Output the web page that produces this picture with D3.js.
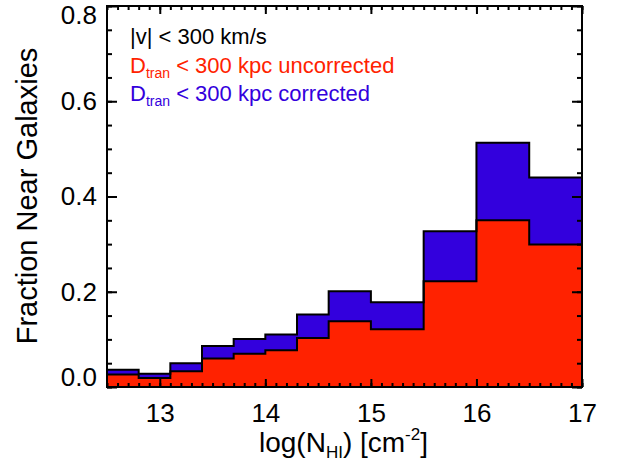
<!DOCTYPE html>
<html>
<head>
<meta charset="utf-8">
<script src="https://cdn.jsdelivr.net/npm/d3@7"></script>
<style>
body { margin: 0; background: #fff; }
svg { font-family: "Liberation Sans", Arial, sans-serif; }
</style>
</head>
<body>
<script>
// bin edges in log(N_HI)
var binEdges = [12.5, 12.8, 13.1, 13.4, 13.7, 14.0, 14.3, 14.6, 15.0, 15.5, 16.0, 16.5, 17.0];
// fraction near galaxies per bin
var corrected   = [0.036, 0.028, 0.050, 0.086, 0.101, 0.110, 0.152, 0.201, 0.178, 0.327, 0.513, 0.440];
var uncorrected = [0.026, 0.019, 0.033, 0.060, 0.070, 0.077, 0.103, 0.138, 0.121, 0.222, 0.350, 0.299];
var xTicks = [13, 14, 15, 16, 17];
var yTicks = [0.0, 0.2, 0.4, 0.6, 0.8];

var W = 623, H = 461;
var margin = {top: 6, right: 41, bottom: 74, left: 107},
    width = W - margin.left - margin.right,
    height = H - margin.top - margin.bottom;

var red = "#ff2200", blue = "#3300dd";

var svg = d3.select("body").append("svg")
    .attr("width", W)
    .attr("height", H);

var g = svg.append("g")
    .attr("transform", "translate(" + margin.left + "," + margin.top + ")");

var x = d3.scaleLinear().domain([12.5, 17]).range([0, width]);
var y = d3.scaleLinear().domain([0, 0.8]).range([height, 0]);

function steps(vals) {
    var pts = vals.map(function(v, i) { return [binEdges[i], v]; });
    pts.push([binEdges[binEdges.length - 1], vals[vals.length - 1]]);
    return pts;
}

var area = d3.area()
    .curve(d3.curveStepAfter)
    .x(function(d) { return x(d[0]); })
    .y0(height)
    .y1(function(d) { return y(d[1]); });

var line = d3.line()
    .curve(d3.curveStepAfter)
    .x(function(d) { return x(d[0]); })
    .y(function(d) { return y(d[1]); });

g.append("path").datum(steps(corrected)).attr("d", area).attr("fill", blue);
g.append("path").datum(steps(uncorrected)).attr("d", area).attr("fill", red);
g.append("path").datum(steps(corrected)).attr("d", line)
    .attr("fill", "none").attr("stroke", "#000").attr("stroke-width", 2);
g.append("path").datum(steps(uncorrected)).attr("d", line)
    .attr("fill", "none").attr("stroke", "#000").attr("stroke-width", 2);

// minor ticks
var xMinor = d3.range(12.5, 17.0001, 0.1).map(function(d) { return Math.round(d * 10) / 10; });
var yMinor = d3.range(0, 0.8001, 0.05).map(function(d) { return Math.round(d * 100) / 100; });

function styleAxis(sel) {
    sel.select(".domain").remove();
    sel.selectAll("line").attr("stroke", "#000").attr("stroke-width", 2);
}

g.append("g").attr("transform", "translate(0," + height + ")")
    .call(d3.axisBottom(x).tickValues(xMinor).tickSizeInner(-4).tickSizeOuter(0).tickFormat(""))
    .call(styleAxis);
g.append("g")
    .call(d3.axisTop(x).tickValues(xMinor).tickSizeInner(-4).tickSizeOuter(0).tickFormat(""))
    .call(styleAxis);
g.append("g")
    .call(d3.axisLeft(y).tickValues(yMinor).tickSizeInner(-5).tickSizeOuter(0).tickFormat(""))
    .call(styleAxis);
g.append("g").attr("transform", "translate(" + width + ",0)")
    .call(d3.axisRight(y).tickValues(yMinor).tickSizeInner(-5).tickSizeOuter(0).tickFormat(""))
    .call(styleAxis);

// major ticks
var xAxis = g.append("g").attr("transform", "translate(0," + height + ")")
    .call(d3.axisBottom(x).tickValues(xTicks).tickSizeInner(-8).tickSizeOuter(0).tickPadding(17).tickFormat(d3.format("d")))
    .call(styleAxis);
g.append("g")
    .call(d3.axisTop(x).tickValues(xTicks).tickSizeInner(-8).tickSizeOuter(0).tickFormat(""))
    .call(styleAxis);
var yAxis = g.append("g")
    .call(d3.axisLeft(y).tickValues(yTicks).tickSizeInner(-10).tickSizeOuter(0).tickPadding(10).tickFormat(d3.format(".1f")))
    .call(styleAxis);
g.append("g").attr("transform", "translate(" + width + ",0)")
    .call(d3.axisRight(y).tickValues(yTicks).tickSizeInner(-10).tickSizeOuter(0).tickFormat(""))
    .call(styleAxis);

xAxis.selectAll("text").attr("font-size", 26).attr("fill", "#000").attr("font-family", null);
yAxis.selectAll("text").attr("font-size", 26).attr("fill", "#000").attr("font-family", null);
// IDL pulls the end labels inside the axis range
yAxis.selectAll(".tick").filter(function(d) { return d === 0; }).select("text").attr("dy", "-0.05em");
yAxis.selectAll(".tick").filter(function(d) { return d === 0.8; }).select("text").attr("dy", "0.68em");

// frame
g.append("rect")
    .attr("width", width).attr("height", height)
    .attr("fill", "none").attr("stroke", "#000").attr("stroke-width", 2);

// axis titles
var xt = svg.append("text")
    .attr("x", margin.left + width / 2 - 1)
    .attr("y", 452)
    .attr("text-anchor", "middle")
    .attr("font-size", 28);
xt.append("tspan").text("log(N");
xt.append("tspan").attr("font-size", 17).attr("dy", 6).text("HI");
xt.append("tspan").attr("dy", -6).text(") [cm");
xt.append("tspan").attr("font-size", 17).attr("dy", -12).text("-2");
xt.append("tspan").attr("dy", 12).text("]");

svg.append("text")
    .attr("transform", "translate(37,196) rotate(-90)")
    .attr("text-anchor", "middle")
    .attr("font-size", 29)
    .text("Fraction Near Galaxies");

// legend
var legend = g.append("g").attr("font-size", 22);
legend.append("text").attr("x", 23).attr("y", 38).attr("fill", "#000").text("|v| < 300 km/s");
[["uncorrected", red, 67], ["corrected", blue, 95]].forEach(function(l) {
    var t = legend.append("text").attr("x", 23).attr("y", l[2]).attr("fill", l[1]);
    t.append("tspan").text("D");
    t.append("tspan").attr("font-size", 14).attr("dy", 5).text("tran");
    t.append("tspan").attr("dy", -5).text(" < 300 kpc " + l[0]);
});
</script>
</body>
</html>
